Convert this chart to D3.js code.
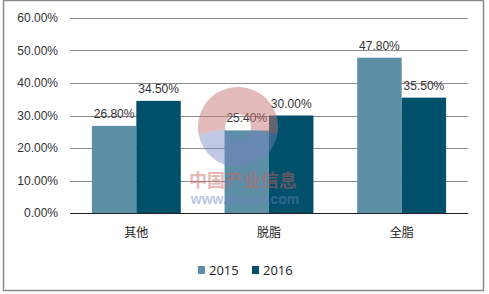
<!DOCTYPE html>
<html>
<head>
<meta charset="utf-8">
<script src="https://cdn.jsdelivr.net/npm/d3@7"></script>
<style>
  body { margin: 0; background: #fff; }
  text { font-family: "Liberation Sans", Arial, sans-serif; }
</style>
</head>
<body>
<div id="chart"></div>
<script>
var categories = ["其他", "脱脂", "全脂"];
var seriesNames = ["2015", "2016"];
var values2015 = [26.8, 25.4, 47.8];
var values2016 = [34.5, 30.0, 35.5];
var yTicks = [0, 10, 20, 30, 40, 50, 60];
var colors = ["#5d8fa6", "#01506b"];

var W = 489, H = 294;
var margin = {top: 18, right: 21, bottom: 81, left: 70},
    width = W - margin.left - margin.right,
    height = H - margin.top - margin.bottom;

var svg = d3.select("#chart").append("svg")
    .attr("width", W)
    .attr("height", H);

// outer frame
svg.append("rect")
    .attr("x", 3.5).attr("y", 0.5)
    .attr("width", 480).attr("height", 290)
    .attr("fill", "none")
    .attr("stroke", "#8a8a8a")
    .attr("stroke-width", 1.5);

var g = svg.append("g")
    .attr("transform", "translate(" + margin.left + "," + margin.top + ")");

var x0 = d3.scaleBand()
    .domain(categories)
    .range([0, width])
    .paddingInner(0.33)
    .paddingOuter(0.165);
var x1 = d3.scaleBand()
    .domain(seriesNames)
    .range([0, x0.bandwidth()]);
var y = d3.scaleLinear()
    .domain([0, 60])
    .range([height, 0]);

// gridlines
g.selectAll(".grid")
    .data(yTicks.filter(function(d) { return d > 0; }))
  .enter().append("line")
    .attr("x1", 0).attr("x2", width)
    .attr("y1", function(d) { return Math.round(y(d)) + 0.5; })
    .attr("y2", function(d) { return Math.round(y(d)) + 0.5; })
    .attr("stroke", "#8c8c8c")
    .attr("stroke-width", 1);

// y labels
g.selectAll(".ylab")
    .data(yTicks)
  .enter().append("text")
    .attr("x", -12)
    .attr("y", function(d) { return y(d); })
    .attr("dy", "0.35em")
    .attr("text-anchor", "end")
    .attr("font-size", "12px")
    .attr("fill", "#333")
    .text(function(d) { return d.toFixed(2) + "%"; });

var data = categories.map(function(c, i) {
  return {cat: c, vals: [{k: "2015", v: values2015[i]}, {k: "2016", v: values2016[i]}]};
});

var groups = g.selectAll(".grp")
    .data(data)
  .enter().append("g")
    .attr("transform", function(d) { return "translate(" + x0(d.cat) + ",0)"; });

groups.selectAll("rect")
    .data(function(d) { return d.vals; })
  .enter().append("rect")
    .attr("x", function(d) { return x1(d.k); })
    .attr("width", x1.bandwidth())
    .attr("y", function(d) { return y(d.v); })
    .attr("height", function(d) { return height - y(d.v); })
    .attr("fill", function(d, i) { return colors[i]; });

// x axis line
g.append("line")
    .attr("x1", 0).attr("x2", width)
    .attr("y1", height + 0.5).attr("y2", height + 0.5)
    .attr("stroke", "#222")
    .attr("stroke-width", 1.2);

// watermark logo, drawn over the bars
var wm = svg.append("g").attr("transform", "translate(238,127)");
wm.append("path")
    .attr("d", d3.arc().innerRadius(13).outerRadius(40).startAngle(-1.75).endAngle(1.75)())
    .attr("fill", "#c87878").attr("opacity", 0.5);
wm.append("path")
    .attr("d", d3.arc().innerRadius(13).outerRadius(40).startAngle(1.75).endAngle(4.53)())
    .attr("fill", "#7585c0").attr("opacity", 0.45);

groups.selectAll(".val")
    .data(function(d) { return d.vals; })
  .enter().append("text")
    .attr("x", function(d) { return x1(d.k) + x1.bandwidth() / 2; })
    .attr("y", function(d) { return y(d.v) - 8; })
    .attr("text-anchor", "middle")
    .attr("font-size", "12px")
    .attr("fill", "#333")
    .text(function(d) { return d.v.toFixed(2) + "%"; });

// watermark text
var wt = svg.append("g").attr("opacity", 0.45);
wt.append("text")
    .attr("x", 243).attr("y", 187)
    .attr("text-anchor", "middle")
    .attr("font-size", "18px")
    .attr("font-weight", "bold")
    .attr("fill", "#d06060")
    .style("font-family", "'Noto Sans CJK SC', sans-serif")
    .text("中国产业信息");
wt.append("text")
    .attr("x", 245).attr("y", 204)
    .attr("text-anchor", "middle")
    .attr("font-size", "14px")
    .attr("font-weight", "bold")
    .attr("fill", "#7080c0")
    .text("www.chyxx.com");

// category labels
g.selectAll(".xlab")
    .data(categories)
  .enter().append("text")
    .attr("x", function(d) { return x0(d) + x0.bandwidth() / 2; })
    .attr("y", height + 20)
    .attr("dy", "0.35em")
    .attr("text-anchor", "middle")
    .attr("font-size", "12px")
    .attr("fill", "#222")
    .style("font-family", "'Noto Sans CJK SC', sans-serif")
    .text(function(d) { return d; });

// legend
var legend = svg.selectAll(".leg")
    .data(seriesNames)
  .enter().append("g")
    .attr("transform", function(d, i) { return "translate(" + (198 + i * 54) + ",266)"; });
legend.append("rect")
    .attr("width", 7).attr("height", 8)
    .attr("fill", function(d, i) { return colors[i]; });
legend.append("text")
    .attr("x", 11).attr("y", 4)
    .attr("dy", "0.4em")
    .attr("font-size", "13px")
    .attr("fill", "#222")
    .style("font-family", "'Open Sans', sans-serif")
    .text(function(d) { return d; });
</script>
</body>
</html>
